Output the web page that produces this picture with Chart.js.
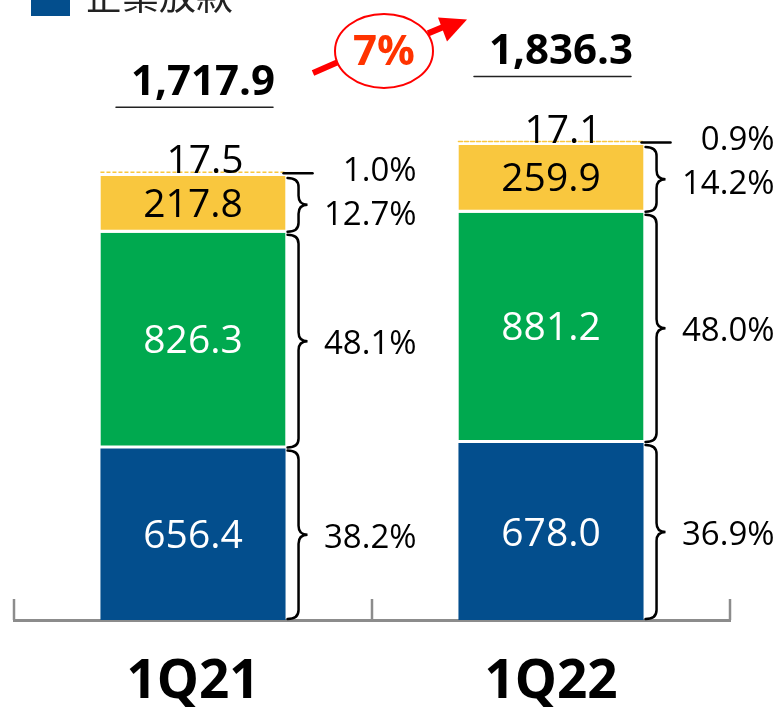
<!DOCTYPE html>
<html>
<head>
<meta charset="utf-8">
<title>放款結構 1Q21 / 1Q22</title>
<script src="https://cdn.jsdelivr.net/npm/chart.js@4.4.1/dist/chart.umd.min.js"></script>
<style>
  html, body { margin: 0; padding: 0; background: #fff; }
  #wrap { width: 775px; height: 708px; position: relative; }
</style>
</head>
<body>
<div id="wrap"><canvas id="loanChart"></canvas></div>
<script>
// values
const quarters = ['1Q21', '1Q22'];
const corporateLoans = [656.4, 678.0];
const greenSegment = [826.3, 881.2];
const yellowSegment = [217.8, 259.9];
const topSegment = [17.5, 17.1];

const corporateShare = ['38.2%', '36.9%'];
const greenShare = ['48.1%', '48.0%'];
const yellowShare = ['12.7%', '14.2%'];
const topShare = ['1.0%', '0.9%'];

const totalLabels = ['1,717.9', '1,836.3'];
const growthLabel = '7%';
const legendLabel = '企業放款';

const BLUE = '#034E8D';
const GREEN = '#00A94F';
const YELLOW = '#F9C73E';
const FONT = "'Open Sans', 'Liberation Sans', sans-serif";

const shareLabels = [corporateShare, greenShare, yellowShare, topShare];
const valueLabels = [corporateLoans, greenSegment, yellowSegment, topSegment];

function drawBrace(ctx, x0, top, bottom) {
    const xs = x0 + 11;
    const xt = x0 + 20;
    const mid = (top + bottom) / 2;
    const r = Math.min(9, (bottom - top) / 4);
    ctx.beginPath();
    ctx.moveTo(x0, top);
    ctx.quadraticCurveTo(xs, top, xs, top + r);
    ctx.lineTo(xs, mid - r);
    ctx.quadraticCurveTo(xs, mid, xt, mid);
    ctx.quadraticCurveTo(xs, mid, xs, mid + r);
    ctx.lineTo(xs, bottom - r);
    ctx.quadraticCurveTo(xs, bottom, x0, bottom);
    ctx.stroke();
}

const slideDecor = {
    id: 'slideDecor',
    afterDatasetsDraw(chart) {
        const ctx = chart.ctx;
        const xScale = chart.scales.x;
        const area = chart.chartArea;
        const metas = [0, 1, 2, 3].map(i => chart.getDatasetMeta(i));
        ctx.save();

        // small upward ticks on the category axis
        ctx.strokeStyle = '#8c8c8c';
        ctx.lineWidth = 2.5;
        for (let i = 0; i <= quarters.length; i++) {
            const px = xScale.getPixelForValue(i - 0.5);
            ctx.beginPath();
            ctx.moveTo(px, area.bottom);
            ctx.lineTo(px, area.bottom - 21);
            ctx.stroke();
        }

        const totalPos = [];
        quarters.forEach((q, i) => {
            const bars = metas.map(m => m.data[i]);
            const cx = bars[0].x;
            const half = bars[0].width / 2;
            const left = cx - half;
            const right = cx + half;
            const stackTop = bars[3].y;

            // dashed top of the small segment
            ctx.save();
            ctx.setLineDash([4, 2]);
            ctx.strokeStyle = YELLOW;
            ctx.lineWidth = 1.5;
            ctx.beginPath();
            ctx.moveTo(left, stackTop + 1);
            ctx.lineTo(right, stackTop + 1);
            ctx.stroke();
            ctx.restore();

            // values inside the segments
            ctx.textAlign = 'center';
            ctx.textBaseline = 'middle';
            ctx.font = '39px ' + FONT;
            for (let s = 0; s < 3; s++) {
                const el = bars[s];
                const bottom = el.base - (s > 0 ? 3 : 0);
                ctx.fillStyle = s === 2 ? '#000' : '#fff';
                ctx.fillText(valueLabels[s][i].toFixed(1), cx, (el.y + bottom) / 2 + 3);
            }
            ctx.fillStyle = '#000';
            ctx.fillText(valueLabels[3][i].toFixed(1), cx + 12, stackTop - 9);

            // braces + shares
            ctx.strokeStyle = '#000';
            ctx.lineWidth = 2.5;
            ctx.lineCap = 'round';
            for (let s = 0; s < 3; s++) {
                const el = bars[s];
                drawBrace(ctx, right + 2, el.y + 2, el.base - 1);
            }
            ctx.beginPath();
            ctx.moveTo(right - 2, stackTop + 2);
            ctx.lineTo(right + 27, stackTop + 2);
            ctx.stroke();

            ctx.font = '33px ' + FONT;
            ctx.textAlign = 'right';
            const shareX = right + 131;
            const topShareY = stackTop;
            ctx.fillText(shareLabels[3][i], shareX, topShareY);
            for (let s = 0; s < 3; s++) {
                const el = bars[s];
                let y = (el.y + el.base) / 2 + 4;
                if (s === 2) y = Math.max(y, topShareY + 44);
                ctx.fillText(shareLabels[s][i], shareX, y);
            }

            // total above the stack, underlined
            const tx = cx + 10;
            const ty = stackTop - 88;
            ctx.textAlign = 'center';
            ctx.font = 'bold 42px ' + FONT;
            ctx.fillText(totalLabels[i], tx, ty);
            ctx.lineWidth = 1.5;
            ctx.strokeStyle = '#222';
            ctx.beginPath();
            ctx.moveTo(cx - 77, stackTop - 64);
            ctx.lineTo(cx + 80, stackTop - 64);
            ctx.stroke();
            totalPos.push({ x: tx, y: ty });
        });

        // growth bubble with arrow between the two totals
        const ex = xScale.getPixelForValue(0.5) + 12;
        const ey = (totalPos[0].y + totalPos[1].y) / 2 - 17;
        ctx.strokeStyle = '#FF0000';
        ctx.fillStyle = '#FF0000';
        ctx.lineCap = 'butt';
        ctx.lineWidth = 6;
        ctx.beginPath();
        ctx.moveTo(ex - 71, ey + 22);
        ctx.lineTo(ex - 47, ey + 11.5);
        ctx.moveTo(ex + 44, ey - 17.5);
        ctx.lineTo(ex + 62, ey - 25);
        ctx.stroke();
        ctx.beginPath();
        ctx.moveTo(ex + 54, ey - 33.5);
        ctx.lineTo(ex + 83, ey - 31.5);
        ctx.lineTo(ex + 63, ey - 9.5);
        ctx.closePath();
        ctx.fill();
        ctx.lineWidth = 2;
        ctx.beginPath();
        ctx.ellipse(ex, ey, 49, 37, 0, 0, Math.PI * 2);
        ctx.fillStyle = '#fff';
        ctx.fill();
        ctx.stroke();
        ctx.fillStyle = '#FF3300';
        ctx.font = 'bold 42px ' + FONT;
        ctx.textAlign = 'center';
        ctx.textBaseline = 'middle';
        ctx.fillText(growthLabel, ex, ey + 2);

        // legend entry, cropped at the top edge like the slide
        ctx.fillStyle = BLUE;
        ctx.fillRect(31, -24, 39, 40);
        ctx.fillStyle = '#222';
        ctx.textAlign = 'left';
        ctx.textBaseline = 'alphabetic';
        ctx.font = "37px 'Noto Sans CJK TC', 'Noto Sans CJK SC', sans-serif";
        ctx.fillText(legendLabel, 85, 10);

        ctx.restore();
    }
};

const ctx = document.getElementById('loanChart').getContext('2d');
const chart = new Chart(ctx, {
    type: 'bar',
    data: {
        labels: quarters,
        datasets: [{
            label: legendLabel,
            data: corporateLoans,
            backgroundColor: BLUE,
            borderWidth: 0
        }, {
            label: 'Segment 2',
            data: greenSegment,
            backgroundColor: GREEN,
            borderColor: '#fff',
            borderWidth: { top: 0, left: 0, right: 0, bottom: 3 },
            borderSkipped: false
        }, {
            label: 'Segment 3',
            data: yellowSegment,
            backgroundColor: YELLOW,
            borderColor: '#fff',
            borderWidth: { top: 0, left: 0, right: 0, bottom: 3 },
            borderSkipped: false
        }, {
            label: 'Segment 4',
            data: topSegment,
            backgroundColor: 'rgba(0,0,0,0)',
            borderWidth: 0
        }]
    },
    options: {
        responsive: true,
        maintainAspectRatio: false,
        animation: false,
        events: [],
        layout: {
            padding: { left: 14, right: 45, top: 0, bottom: 0 }
        },
        datasets: {
            bar: {
                categoryPercentage: 1,
                barPercentage: 0.517
            }
        },
        scales: {
            x: {
                stacked: true,
                grid: { display: false },
                border: { display: true, color: '#8c8c8c', width: 3 },
                ticks: {
                    color: '#000',
                    padding: 28,
                    font: { family: FONT, size: 53, weight: 'bold', lineHeight: 1 }
                },
                afterFit: function(scale) {
                    scale.height = 88;
                }
            },
            y: {
                stacked: true,
                display: false,
                min: 0,
                max: 2374
            }
        },
        plugins: {
            legend: { display: false },
            tooltip: { enabled: false }
        }
    },
    plugins: [slideDecor]
});
</script>
</body>
</html>
